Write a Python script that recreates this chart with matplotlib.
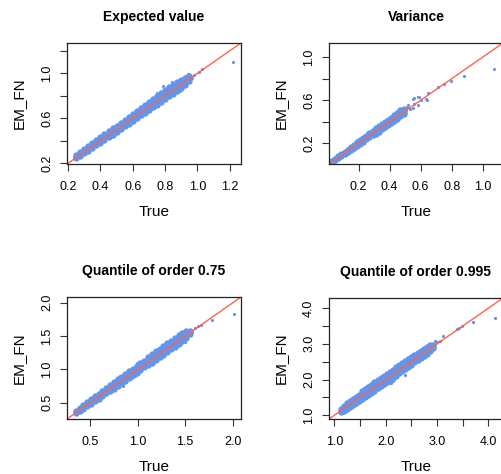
import matplotlib
matplotlib.use("Agg")
import matplotlib.pyplot as plt

matplotlib.rcParams['font.family'] = ['Liberation Sans', 'DejaVu Sans']

# Expected value: dense band (upper edge / middle / lower edge) + stray points
ev_band_true = [0.25, 0.275, 0.30, 0.325, 0.35, 0.375, 0.40, 0.425, 0.45, 0.475, 0.50, 0.525, 0.55, 0.575, 0.60,
                0.625, 0.65, 0.675, 0.70, 0.725, 0.75, 0.775, 0.80, 0.825, 0.85, 0.875, 0.90, 0.925, 0.95]
ev_band_hi = [0.27, 0.30, 0.33, 0.355, 0.38, 0.41, 0.435, 0.46, 0.485, 0.51, 0.535, 0.56, 0.585, 0.61, 0.635,
              0.665, 0.69, 0.715, 0.745, 0.775, 0.80, 0.825, 0.85, 0.875, 0.90, 0.92, 0.945, 0.96, 0.975]
ev_band_mid = [0.255, 0.283, 0.31, 0.335, 0.36, 0.385, 0.41, 0.435, 0.46, 0.485, 0.51, 0.535, 0.56, 0.585, 0.61,
               0.635, 0.66, 0.685, 0.71, 0.735, 0.76, 0.785, 0.81, 0.835, 0.86, 0.885, 0.91, 0.935, 0.955]
ev_band_lo = [0.245, 0.268, 0.29, 0.31, 0.335, 0.36, 0.38, 0.405, 0.43, 0.455, 0.478, 0.502, 0.527, 0.552, 0.576,
              0.60, 0.625, 0.65, 0.673, 0.698, 0.722, 0.746, 0.77, 0.796, 0.82, 0.846, 0.872, 0.90, 0.935]
ev_out_true = [1.22, 1.03, 1.01, 0.965, 0.945, 0.93, 0.885, 0.895, 0.845, 0.79, 0.75, 0.70, 0.98]
ev_out_fn = [1.10, 1.035, 1.015, 0.955, 0.99, 0.975, 0.915, 0.84, 0.925, 0.885, 0.825, 0.735, 0.985]

# Variance
var_band_true = [0.03, 0.05, 0.07, 0.09, 0.11, 0.13, 0.15, 0.17, 0.19, 0.21, 0.23, 0.25, 0.27, 0.29, 0.31, 0.33,
                 0.35, 0.37, 0.39, 0.41, 0.43, 0.45, 0.47, 0.49]
var_band_hi = [0.04, 0.06, 0.08, 0.10, 0.122, 0.143, 0.166, 0.188, 0.21, 0.23, 0.25, 0.272, 0.295, 0.315,
               0.34, 0.36, 0.38, 0.40, 0.42, 0.44, 0.46, 0.485, 0.51, 0.52]
var_band_mid = [0.035, 0.055, 0.075, 0.095, 0.115, 0.135, 0.155, 0.175, 0.195, 0.215, 0.235, 0.255, 0.275, 0.295,
                0.315, 0.335, 0.355, 0.375, 0.395, 0.415, 0.435, 0.455, 0.475, 0.495]
var_band_lo = [0.03, 0.05, 0.068, 0.087, 0.106, 0.125, 0.14, 0.158, 0.178, 0.198, 0.218, 0.238, 0.258, 0.278,
               0.292, 0.31, 0.33, 0.35, 0.37, 0.39, 0.41, 0.43, 0.45, 0.475]
var_out_true = [1.075, 0.877, 0.796, 0.753, 0.71, 0.645, 0.635, 0.58, 0.58, 0.56, 0.548, 0.516, 0.503, 0.53,
                0.60, 0.55, 0.555, 0.587, 0.64, 0.51]
var_out_fn = [0.887, 0.82, 0.78, 0.747, 0.725, 0.663, 0.615, 0.63, 0.555, 0.57, 0.615, 0.557, 0.51, 0.52,
              0.60, 0.53, 0.62, 0.634, 0.603, 0.54]

# Quantile of order 0.75
q75_band_true = [0.35, 0.39, 0.43, 0.47, 0.51, 0.55, 0.59, 0.63, 0.67, 0.71, 0.75, 0.79, 0.83, 0.87, 0.91, 0.95,
                 0.99, 1.03, 1.07, 1.11, 1.15, 1.19, 1.23, 1.27, 1.31, 1.35, 1.39, 1.43, 1.47, 1.51, 1.55]
q75_band_hi = [0.38, 0.425, 0.47, 0.515, 0.555, 0.595, 0.635, 0.675, 0.715, 0.77, 0.81, 0.85, 0.89, 0.93, 0.97,
               1.01, 1.05, 1.09, 1.13, 1.19, 1.23, 1.27, 1.31, 1.35, 1.39, 1.43, 1.47, 1.51, 1.55, 1.57, 1.58]
q75_band_mid = [0.36, 0.40, 0.445, 0.485, 0.525, 0.565, 0.605, 0.645, 0.685, 0.725, 0.765, 0.805, 0.845, 0.885,
                0.925, 0.965, 1.005, 1.045, 1.085, 1.125, 1.165, 1.205, 1.245, 1.285, 1.325, 1.365, 1.405, 1.445,
                1.485, 1.525, 1.56]
q75_band_lo = [0.34, 0.375, 0.41, 0.445, 0.48, 0.52, 0.56, 0.60, 0.64, 0.67, 0.71, 0.75, 0.79, 0.83, 0.87, 0.91,
               0.95, 0.99, 1.03, 1.06, 1.10, 1.14, 1.18, 1.22, 1.26, 1.30, 1.34, 1.38, 1.42, 1.47, 1.53]
q75_out_true = [2.018, 1.787, 1.663, 1.64, 1.52, 1.38, 1.433, 1.503, 0.97, 0.847, 0.883, 1.45, 1.60, 0.99, 1.03,
                0.85, 0.94, 1.44, 1.53]
q75_out_fn = [1.825, 1.735, 1.66, 1.65, 1.559, 1.483, 1.46, 1.41, 0.907, 0.78, 0.86, 1.55, 1.62, 1.10, 1.07,
              0.745, 0.87, 1.52, 1.55]

# Quantile of order 0.995
q995_band_true = [1.12, 1.18, 1.24, 1.30, 1.36, 1.42, 1.48, 1.54, 1.60, 1.66, 1.72, 1.78, 1.84, 1.90, 1.96, 2.02,
                  2.08, 2.14, 2.20, 2.26, 2.32, 2.38, 2.44, 2.50, 2.56, 2.62, 2.68, 2.74, 2.80, 2.86, 2.92]
q995_band_hi = [1.17, 1.25, 1.33, 1.40, 1.46, 1.52, 1.58, 1.68, 1.74, 1.80, 1.86, 1.92, 1.98, 2.04, 2.10, 2.16,
                2.22, 2.28, 2.34, 2.40, 2.46, 2.52, 2.58, 2.64, 2.68, 2.74, 2.80, 2.86, 2.92, 2.96, 2.98]
q995_band_mid = [1.13, 1.20, 1.27, 1.33, 1.39, 1.45, 1.51, 1.57, 1.63, 1.69, 1.75, 1.81, 1.87, 1.93, 1.99, 2.05,
                 2.11, 2.17, 2.23, 2.29, 2.35, 2.41, 2.47, 2.53, 2.59, 2.65, 2.71, 2.77, 2.83, 2.89, 2.94]
q995_band_lo = [1.08, 1.13, 1.18, 1.23, 1.29, 1.35, 1.41, 1.45, 1.51, 1.57, 1.63, 1.69, 1.75, 1.81, 1.87, 1.93,
                1.99, 2.05, 2.11, 2.17, 2.23, 2.29, 2.35, 2.42, 2.48, 2.54, 2.60, 2.66, 2.72, 2.79, 2.88]
q995_out_true = [4.13, 3.71, 3.48, 3.42, 3.38, 3.12, 2.96, 3.00, 2.83, 2.15, 2.10, 2.90, 3.05, 2.09, 2.38]
q995_out_fn = [3.73, 3.60, 3.49, 3.45, 3.42, 3.23, 3.07, 3.05, 2.79, 1.95, 1.90, 2.90, 3.08, 1.89, 2.12]

titles = ["Expected value", "Variance", "Quantile of order 0.75", "Quantile of order 0.995"]

point_col = "cornflowerblue"
line_col = "tomato"

W, H = 501, 474
fig = plt.figure(figsize=(W / 100, H / 100), dpi=100)


def panel(box, title, band_x, band_rows, out_x, out_y, lims, ticks, ylabels_shown, xlabels_shown):
    left, top, right, bottom = box
    ax = fig.add_axes([left / W, 1 - bottom / H, (right - left) / W, (bottom - top) / H])
    # dense band: overlapping dots so it reads as a solid cloud
    for row in band_rows:
        ax.plot(band_x, row, "o", ms=4.6, mec="none", color=point_col)
    ax.plot(out_x, out_y, "o", ms=2.3, mec="none", color=point_col)
    ax.axline((0, 0), slope=1, color=line_col, lw=1.0)
    ax.set_xlim(lims)
    ax.set_ylim(lims)
    ax.set_xticks(ticks)
    ax.set_yticks(ticks)
    ax.set_xticklabels([f"{t:.1f}" if t in xlabels_shown else "" for t in ticks])
    ax.set_yticklabels([f"{t:.1f}" if t in ylabels_shown else "" for t in ticks], rotation=90, va="center")
    ax.tick_params(axis="x", length=5, width=0.8, pad=7, labelsize=9, color="#333333")
    ax.tick_params(axis="y", length=5, width=0.8, pad=5, labelsize=9, color="#333333")
    for s in ax.spines.values():
        s.set_linewidth(0.9)
        s.set_color("#222222")
    ax.set_xlabel("True", fontsize=11, labelpad=9)
    ax.set_ylabel("EM_FN", fontsize=11, labelpad=11)
    ax.set_title(title, fontsize=10, fontweight="bold", pad=16)
    return ax


panel((67, 43, 241, 164), titles[0], ev_band_true, [ev_band_hi, ev_band_mid, ev_band_lo],
      ev_out_true, ev_out_fn, (0.193, 1.27), [0.2, 0.4, 0.6, 0.8, 1.0, 1.2],
      [0.2, 0.6, 1.0], [0.2, 0.4, 0.6, 0.8, 1.0, 1.2])
panel((329, 43, 503, 164), titles[1], var_band_true, [var_band_hi, var_band_mid, var_band_lo],
      var_out_true, var_out_fn, (0.01, 1.13), [0.2, 0.4, 0.6, 0.8, 1.0],
      [0.2, 0.6, 1.0], [0.2, 0.4, 0.6, 0.8, 1.0])
panel((67, 297, 241, 419), titles[2], q75_band_true, [q75_band_hi, q75_band_mid, q75_band_lo],
      q75_out_true, q75_out_fn, (0.257, 2.087), [0.5, 1.0, 1.5, 2.0],
      [0.5, 1.0, 1.5, 2.0], [0.5, 1.0, 1.5, 2.0])
panel((329, 298, 503, 419), titles[3], q995_band_true, [q995_band_hi, q995_band_mid, q995_band_lo],
      q995_out_true, q995_out_fn, (0.895, 4.285), [1.0, 1.5, 2.0, 2.5, 3.0, 3.5, 4.0],
      [1.0, 2.0, 3.0, 4.0], [1.0, 2.0, 3.0, 4.0])

plt.savefig("out.png", dpi=100)
plt.close()
